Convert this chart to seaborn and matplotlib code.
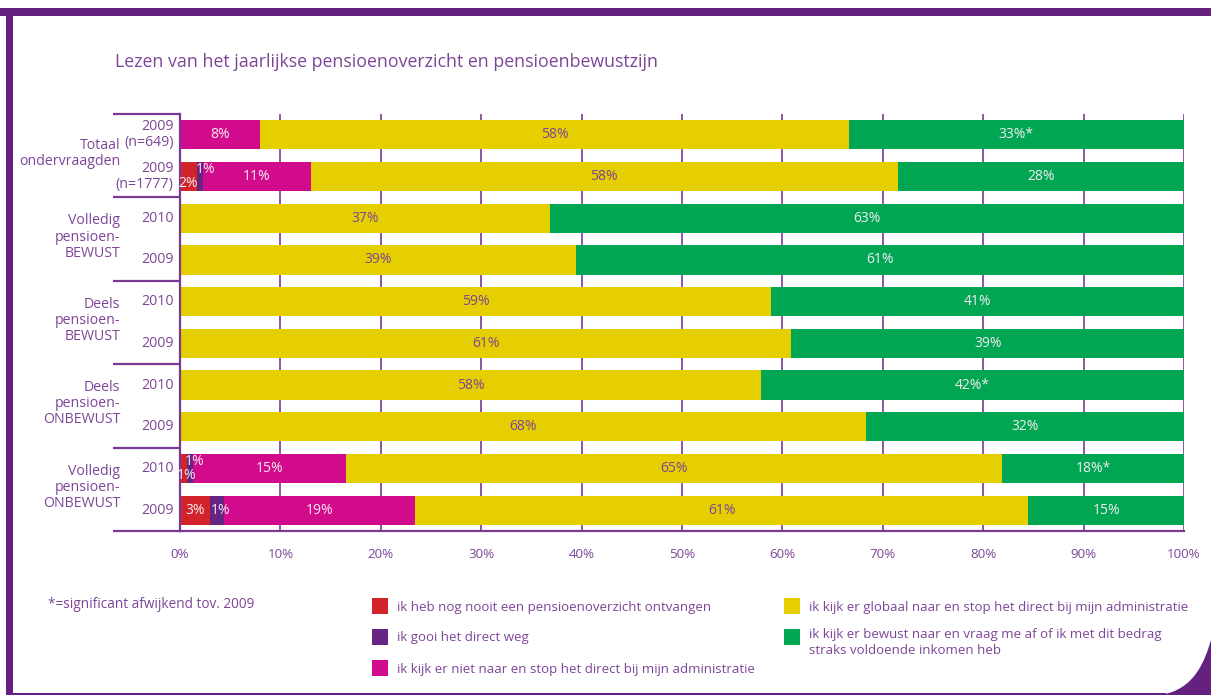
import numpy as np
import pandas as pd
import seaborn as sns
import matplotlib
matplotlib.use("Agg")
import matplotlib.pyplot as plt
from matplotlib.patches import Rectangle, PathPatch
from matplotlib.path import Path
import matplotlib.transforms as mtrans

# ---------------- data ----------------
title = "Lezen van het jaarlijkse pensioenoverzicht en pensioenbewustzijn"
groups = ["Totaal\nondervraagden", "Volledig\npensioen-\nBEWUST", "Deels\npensioen-\nBEWUST",
          "Deels\npensioen-\nONBEWUST", "Volledig\npensioen-\nONBEWUST"]
row_labels = ["2009\n(n=649)", "2009\n(n=1777)", "2010", "2009", "2010", "2009",
              "2010", "2009", "2010", "2009"]
categories = ["ik heb nog nooit een pensioenoverzicht ontvangen",
              "ik gooi het direct weg",
              "ik kijk er niet naar en stop het direct bij mijn administratie",
              "ik kijk er globaal naar en stop het direct bij mijn administratie",
              "ik kijk er bewust naar en vraag me af of ik met dit bedrag\nstraks voldoende inkomen heb"]
nooit   = [0.0, 1.7, 0, 0, 0, 0, 0, 0, 0.7, 3.0]
gooi    = [0.0, 0.6, 0, 0, 0, 0, 0, 0, 0.6, 1.4]
niet    = [8.0, 10.7, 0, 0, 0, 0, 0, 0, 15.2, 19.0]
globaal = [58.6, 58.5, 36.9, 39.4, 58.9, 60.9, 57.9, 68.3, 65.4, 61.1]
bewust  = [33.4, 28.5, 63.1, 60.6, 41.1, 39.1, 42.1, 31.7, 18.1, 15.5]

lab_nooit   = ["", "2%", "", "", "", "", "", "", "1%", "3%"]
lab_gooi    = ["", "1%", "", "", "", "", "", "", "1%", "1%"]
lab_niet    = ["8%", "11%", "", "", "", "", "", "", "15%", "19%"]
lab_globaal = ["58%", "58%", "37%", "39%", "59%", "61%", "58%", "68%", "65%", "61%"]
lab_bewust  = ["33%*", "28%", "63%", "61%", "41%", "39%", "42%*", "32%", "18%*", "15%"]
footnote = "*=significant afwijkend tov. 2009"
xticks = [0, 10, 20, 30, 40, 50, 60, 70, 80, 90, 100]

# ---------------- style ----------------
RED, PURPLE, MAGENTA, YELLOW, GREEN = "#d2232a", "#662483", "#d20b8c", "#e5cf00", "#00a651"
colors = [RED, PURPLE, MAGENTA, YELLOW, GREEN]
TXT = "#7d4597"
LINE = "#7a3a93"
FRAME = "#65217f"
LIGHT = "#f3ecf3"

sns.set_theme(style="white")
plt.rcParams["font.family"] = ["Open Sans", "DejaVu Sans"]

W, H = 1211, 695
fig = plt.figure(figsize=(W / 100, H / 100), dpi=100)
fig.patch.set_facecolor("white")

def fx(px):
    return px / W

def fy(py):
    return 1 - py / H

ax_l, ax_r, ax_t, ax_b = 180, 1184, 114, 531
ax = fig.add_axes([fx(ax_l), fy(ax_b), fx(ax_r - ax_l), (ax_b - ax_t) / H])

series = [nooit, gooi, niet, globaal, bewust]
cum = np.zeros(10)
cums = []
for s in series:
    cum = cum + np.array(s)
    cums.append(cum.copy())

# draw cumulative bars from largest to smallest (stacking)
for c, col in reversed(list(zip(cums, colors))):
    d = pd.DataFrame({"row": np.arange(10), "val": c})
    sns.barplot(data=d, x="val", y="row", orient="h", color=col, width=0.7,
                saturation=1, ax=ax, zorder=3, linewidth=0)

ax.set_xlim(0, 100)
ax.set_ylim(9.5, -0.5)
ax.set_xlabel("")
ax.set_ylabel("")
ax.set_xticks(xticks)
ax.set_xticklabels([f"{t}%" for t in xticks], color=TXT, fontsize=9.6)
ax.tick_params(axis="x", length=0, pad=12)
ax.set_yticks([])
ax.xaxis.grid(True, color=LINE, linewidth=1.2)
ax.set_axisbelow(True)
for sp in ["top", "right"]:
    ax.spines[sp].set_visible(False)
for sp in ["left", "bottom"]:
    ax.spines[sp].set_color(LINE)
    ax.spines[sp].set_linewidth(1.6)
ax.spines["left"].set_zorder(5)

# segment labels (positive dy = lower in the bar, since the y axis is inverted)
labels = [lab_nooit, lab_gooi, lab_niet, lab_globaal, lab_bewust]
starts = [np.zeros(10)] + cums[:-1]
offsets = {(0, 1): (0.0, 0.17), (1, 1): (0.5, -0.17), (0, 8): (0.35, 0.17), (1, 8): (0.5, -0.17),
           (1, 9): (0.3, 0.0)}
for k in range(5):
    for i in range(10):
        t = labels[k][i]
        if not t:
            continue
        x0 = starts[k][i]
        w = series[k][i]
        dx, dy = offsets.get((k, i), (0, 0))
        col = TXT if k == 3 else LIGHT
        ax.text(x0 + w / 2 + dx, i + dy, t, ha="center", va="center", fontsize=10,
                color=col, zorder=6)

# row labels and group labels / separators
trans = mtrans.blended_transform_factory(ax.transAxes, ax.transData)
for i, lab in enumerate(row_labels):
    ax.text(-0.0065, i, lab, transform=trans, ha="right", va="center", fontsize=10.2,
            color=TXT, linespacing=1.1)
left_frac = (113 - ax_l) / (ax_r - ax_l)
for g, gl in enumerate(groups):
    yc = 2 * g + 0.5
    ax.text((120 - ax_l) / (ax_r - ax_l), yc - 0.05, gl, transform=trans, ha="right",
            va="center", fontsize=10.2, color=TXT, linespacing=1.1)
for b in range(6):
    yb = 2 * b - 0.5
    ax.plot([left_frac, 0], [yb, yb], transform=trans, color=LINE, lw=1.6,
            clip_on=False, solid_capstyle="butt")

# title and footnote
fig.text(fx(115), fy(62), title, ha="left", va="center", fontsize=12.8, color=TXT)
fig.text(fx(48), fy(604), footnote, ha="left", va="center", fontsize=9.8, color=TXT)

# legend
leg_pos = [(372, 606), (372, 637), (372, 668), (784, 606), (784, 637)]
for (lx, ly), col, txt in zip(leg_pos, colors, categories):
    fig.patches.append(Rectangle((fx(lx), fy(ly + 8)), fx(16), 16 / H, transform=fig.transFigure,
                                 facecolor=col, edgecolor="none"))
    if "\n" in txt:
        fig.text(fx(lx + 25), fy(ly - 9), txt, ha="left", va="top", fontsize=9.5, color=TXT,
                 linespacing=1.25)
    else:
        fig.text(fx(lx + 25), fy(ly + 1), txt, ha="left", va="center", fontsize=9.5, color=TXT)

# frame
fig.patches.append(Rectangle((0, fy(16)), 1, 8 / H, transform=fig.transFigure,
                             facecolor=FRAME, edgecolor="none"))
fig.patches.append(Rectangle((fx(6), fy(693)), fx(7), (693 - 16) / H, transform=fig.transFigure,
                             facecolor=FRAME, edgecolor="none"))
fig.patches.append(Rectangle((fx(6), fy(695)), fx(1160), 2.5 / H, transform=fig.transFigure,
                             facecolor=FRAME, edgecolor="none"))
verts = [(fx(1160), fy(695)), (fx(1195), fy(690)), (fx(1205), fy(660)), (fx(1211), fy(640)),
         (fx(1211), fy(695)), (fx(1160), fy(695))]
codes = [Path.MOVETO, Path.CURVE4, Path.CURVE4, Path.CURVE4, Path.LINETO, Path.CLOSEPOLY]
fig.patches.append(PathPatch(Path(verts, codes), transform=fig.transFigure,
                             facecolor=FRAME, edgecolor="none"))

fig.savefig("out.png", dpi=100, facecolor="white")
